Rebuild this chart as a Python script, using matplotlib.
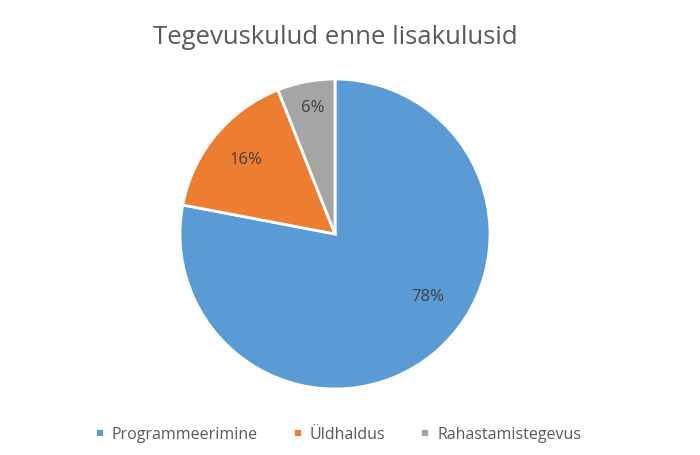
"""
Tegevuskulud enne lisakulusid - sektordiagramm.
"""

import matplotlib

matplotlib.use("Agg")
import matplotlib.pyplot as plt
import numpy as np

categories = ["Programmeerimine", "Üldhaldus", "Rahastamistegevus"]
shares = [78, 16, 6]
colors = ["#5B9BD5", "#ED7D31", "#A5A5A5"]

plt.rcParams["font.family"] = ["Open Sans", "DejaVu Sans"]

fig = plt.figure(figsize=(7, 4.56), dpi=100)
ax = fig.add_axes([(335 - 155) / 700, (456 - 235 - 155) / 456, 310 / 700, 310 / 456])

wedges, _ = ax.pie(
    shares,
    colors=colors,
    startangle=90,
    counterclock=False,
    wedgeprops=dict(edgecolor="white", linewidth=2),
)

# label placement (distance, angle in degrees) roughly like Excel's "best fit"
label_pos = [(0.72, -33.7), (0.75, 140.0), (0.83, 100.0)]
for s, (d, a) in zip(shares, label_pos):
    ang = np.deg2rad(a)
    ax.text(d * np.cos(ang), d * np.sin(ang), f"{s}%", ha="center", va="center",
            fontsize=12, color="#404040")

ax.set_xlim(-1, 1)
ax.set_ylim(-1, 1)
ax.set_aspect("equal")
ax.axis("off")

fig.text(335 / 700, 1 - 38 / 456, "Tegevuskulud enne lisakulusid", ha="center", va="center",
         fontsize=18.5, color="#595959")

fig.legend(
    wedges,
    categories,
    loc="center",
    bbox_to_anchor=(338 / 700, 1 - 435 / 456),
    ncol=3,
    frameon=False,
    fontsize=11.5,
    labelcolor="#595959",
    handlelength=0.55,
    handleheight=0.55,
    handletextpad=0.5,
    columnspacing=2.2,
)

fig.savefig("out.png", dpi=100, facecolor="white")
